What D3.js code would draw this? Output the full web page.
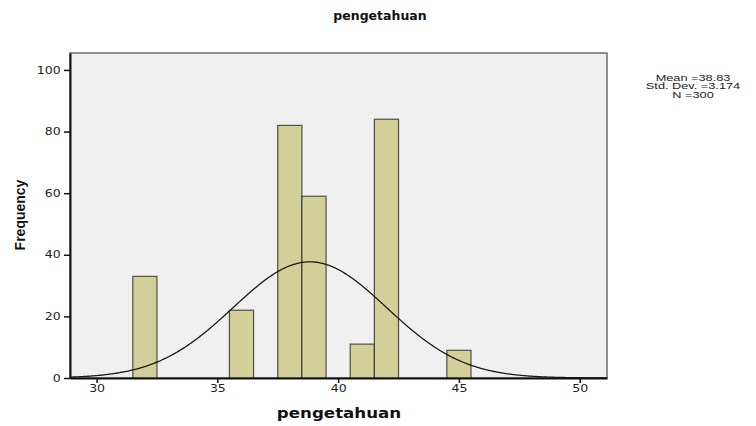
<!DOCTYPE html>
<html>
<head>
<meta charset="utf-8">
<script src="https://cdn.jsdelivr.net/npm/d3@7"></script>
<style>
  body { margin: 0; background: #fff; }
  svg { display: block; }
</style>
</head>
<body>
<svg id="graphique" width="756" height="426"></svg>
<script>
// histogram bins (score value, frequency)
var scores = [32, 36, 38, 39, 41, 42, 45];
var frequencies = [33, 22, 82, 59, 11, 84, 9];
var xTicks = [30, 35, 40, 45, 50];
var yTicks = [0, 20, 40, 60, 80, 100];
var statsLines = ["Mean =38.83", "Std. Dev. =3.174", "N =300"];
var mean = 38.83, stdDev = 3.174, nTotal = 300;

var graphique = d3.select("#graphique");
var MARGINS = { top: 53, right: 149, bottom: 48, left: 70 };
var WIDTH = 756, HEIGHT = 426;

var xScale = d3.scaleLinear().domain([28.9, 51.13]).range([MARGINS.left, WIDTH - MARGINS.right]);
var yScale = d3.scaleLinear().domain([0, 105.5]).range([HEIGHT - MARGINS.bottom, MARGINS.top]);

// plot background
graphique.append("rect")
  .attr("x", MARGINS.left).attr("y", MARGINS.top)
  .attr("width", WIDTH - MARGINS.right - MARGINS.left)
  .attr("height", HEIGHT - MARGINS.bottom - MARGINS.top)
  .attr("fill", "#f0f0f0")
  .attr("stroke", "#6e6e6e").attr("stroke-width", 1.5);

// bars
scores.forEach(function(s, i){
  graphique.append("rect")
    .attr("x", xScale(s - 0.5))
    .attr("y", yScale(frequencies[i]))
    .attr("width", xScale(s + 0.5) - xScale(s - 0.5))
    .attr("height", yScale(0) - yScale(frequencies[i]))
    .attr("fill", "#d3cf98")
    .attr("stroke", "#2b2b2b").attr("stroke-opacity", 0.8).attr("stroke-width", 1.2);
});

// normal curve
var curveX = d3.range(28.9, 51.13, 0.05);
var line = d3.line()
  .x(function(d){ return xScale(d); })
  .y(function(d){
    var z = (d - mean) / stdDev;
    return yScale(nTotal / (stdDev * Math.sqrt(2 * Math.PI)) * Math.exp(-0.5 * z * z));
  })
  .curve(d3.curveBasis);
graphique.append("path")
  .attr("d", line(curveX))
  .attr("fill", "none").attr("stroke", "#1a1a1a").attr("stroke-width", 1.3);

// axes
var xAxis = d3.axisBottom(xScale).tickValues(xTicks).tickSize(5).tickSizeOuter(0);
var yAxis = d3.axisLeft(yScale).tickValues(yTicks).tickSize(6).tickSizeOuter(0);

var gx = graphique.append("g")
  .attr("transform", "translate(0," + (HEIGHT - MARGINS.bottom) + ")")
  .call(xAxis);
var gy = graphique.append("g")
  .attr("transform", "translate(" + MARGINS.left + ",0)")
  .call(yAxis);

[gx, gy].forEach(function(g){
  g.select(".domain").attr("stroke", "#111").attr("stroke-width", 2);
  g.selectAll(".tick line").attr("stroke", "#111").attr("stroke-width", 1.5);
  g.selectAll(".tick text")
    .attr("font-family", "DejaVu Sans, Verdana, sans-serif")
    .attr("font-size", 10).attr("fill", "#222")
    .attr("transform", "scale(1.25,1)");
});
gx.selectAll(".tick text").attr("dy", "0.6em");
gy.selectAll(".tick text").attr("x", -7.5);

// titles
graphique.append("text")
  .attr("x", 380).attr("y", 20)
  .attr("text-anchor", "middle")
  .attr("font-family", "DejaVu Sans, Verdana, sans-serif")
  .attr("font-weight", "bold").attr("font-size", 12.5)
  .attr("fill", "#111")
  .text("pengetahuan");

graphique.append("text")
  .attr("transform", "translate(339,418) scale(1.15,1)")
  .attr("text-anchor", "middle")
  .attr("font-family", "DejaVu Sans, Verdana, sans-serif")
  .attr("font-weight", "bold").attr("font-size", 14.5)
  .attr("fill", "#111")
  .text("pengetahuan");

graphique.append("text")
  .attr("transform", "translate(25,215) rotate(-90)")
  .attr("text-anchor", "middle")
  .attr("font-family", "Liberation Sans Narrow, Liberation Sans, Arial, sans-serif")
  .attr("font-weight", "bold").attr("font-size", 14)
  .attr("fill", "#111")
  .text("Frequency");

// stats box
statsLines.forEach(function(t, i){
  graphique.append("text")
    .attr("transform", "translate(693," + (80.5 + i * 8.5) + ") scale(1.5,1)")
    .attr("text-anchor", "middle")
    .attr("font-family", "Liberation Sans, Arial, sans-serif")
    .attr("font-size", 8.5)
    .attr("fill", "#222")
    .text(t);
});
</script>
</body>
</html>
